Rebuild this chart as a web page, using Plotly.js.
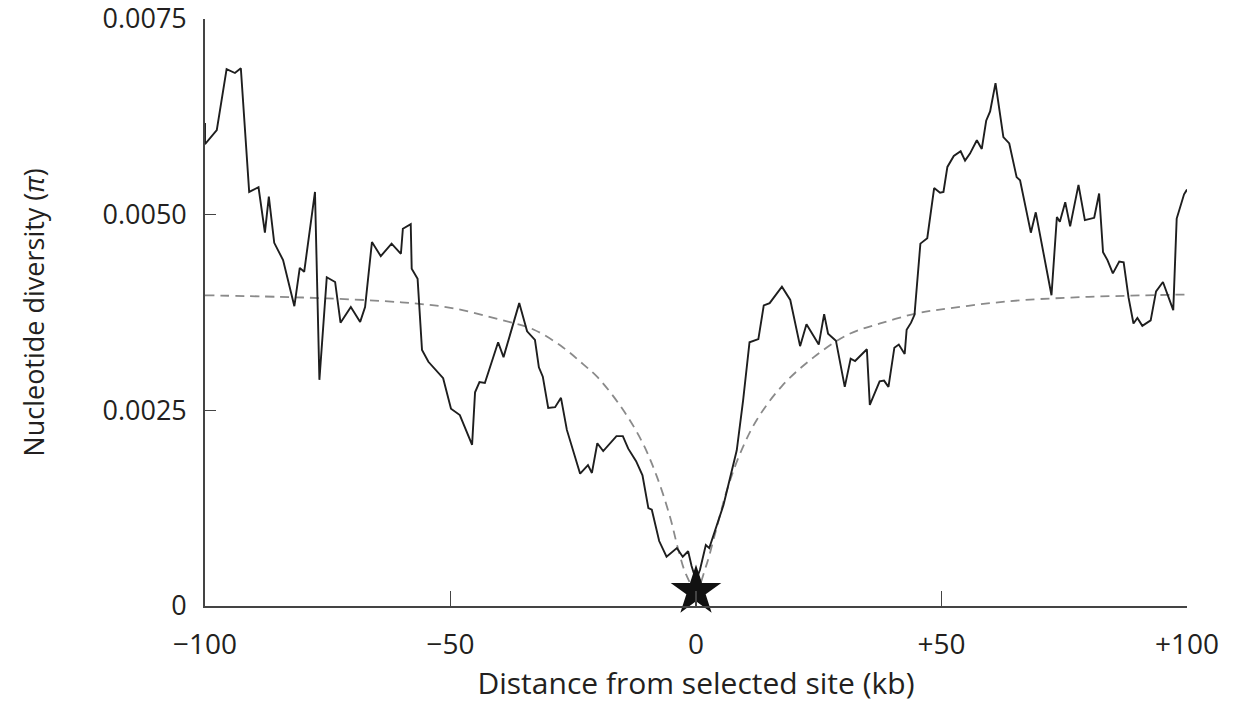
<!DOCTYPE html>
<html>
<head>
<meta charset="utf-8">
<script src="https://cdn.plot.ly/plotly-3.0.1.min.js"></script>
<style>
  html, body { margin: 0; padding: 0; background: #ffffff; }
  #chart { width: 1235px; height: 703px; }
</style>
</head>
<body>
<div id="chart"></div>
<script>
// Observed nucleotide diversity along the sequence (kb from selected site)
const distanceKb = [
  -100, -100, -97.6, -95.6, -93.9, -92.7, -91.0, -89.1, -87.8, -87.0,
  -85.9, -84.1, -81.8, -80.7, -79.8, -77.6, -76.7, -75.2, -73.5, -72.4,
  -70.3, -68.4, -67.4, -66.0, -64.2, -62.0, -60.1, -59.7, -58.1, -57.9,
  -56.7, -55.8, -54.5, -51.5, -49.9, -48.1, -45.6, -45.0, -44.1, -43.0,
  -40.3, -39.2, -36.0, -34.4, -32.8, -32.0, -31.2, -30.1, -28.7, -27.5,
  -26.3, -23.6, -22.0, -21.2, -20.1, -18.9, -16.2, -14.9, -13.8, -12.2,
  -10.9, -9.7, -9.0, -7.5, -6.0, -3.9, -2.7, -1.6, -0.9, 0,
  0.8, 2.0, 2.7, 5.6, 8.3, 9.6, 10.9, 12.7, 13.8, 15.0,
  17.5, 19.2, 21.2, 22.5, 25.0, 26.1, 26.9, 28.5, 30.3, 31.5,
  32.4, 34.8, 35.4, 37.4, 38.3, 39.2, 40.4, 41.3, 42.5, 42.9,
  43.8, 44.5, 45.7, 47.1, 48.5, 49.7, 50.4, 51.2, 52.5, 53.9,
  54.8, 55.8, 57.2, 58.2, 59.1, 59.9, 61.0, 62.6, 63.8, 65.3,
  66.0, 68.2, 69.2, 72.4, 73.5, 74.1, 75.2, 76.2, 77.9, 79.2,
  81.1, 82.1, 82.9, 83.8, 84.9, 86.2, 87.1, 88.1, 89.1, 89.9,
  90.9, 92.6, 93.7, 95.1, 97.2, 97.9, 99.4, 100
];
const diversity = [
  0.00617, 0.00590, 0.00608, 0.00686, 0.00681, 0.00687, 0.00529, 0.00535, 0.00477, 0.00523,
  0.00464, 0.00442, 0.00383, 0.00432, 0.00427, 0.00529, 0.00289, 0.00420, 0.00414, 0.00362,
  0.00382, 0.00363, 0.00382, 0.00465, 0.00447, 0.00463, 0.00450, 0.00482, 0.00488, 0.00431,
  0.00418, 0.00327, 0.00312, 0.00291, 0.00252, 0.00244, 0.00206, 0.00273, 0.00286, 0.00285,
  0.00337, 0.00318, 0.00387, 0.00351, 0.00340, 0.00305, 0.00293, 0.00253, 0.00254, 0.00266,
  0.00225, 0.00169, 0.00180, 0.00170, 0.00208, 0.00198, 0.00217, 0.00217, 0.00201, 0.00185,
  0.00167, 0.00125, 0.00123, 0.00083, 0.00063, 0.00074, 0.00063, 0.00070, 0.00051, 0.00033,
  0.00046, 0.00078, 0.00074, 0.00129, 0.00199, 0.00263, 0.00337, 0.00341, 0.00384, 0.00387,
  0.00408, 0.00391, 0.00332, 0.00360, 0.00334, 0.00373, 0.00348, 0.00339, 0.00280, 0.00316,
  0.00313, 0.00328, 0.00257, 0.00287, 0.00288, 0.00280, 0.00330, 0.00334, 0.00322, 0.00353,
  0.00362, 0.00372, 0.00463, 0.00470, 0.00534, 0.00528, 0.00529, 0.00561, 0.00575, 0.00581,
  0.00569, 0.00578, 0.00595, 0.00584, 0.00620, 0.00632, 0.00668, 0.00599, 0.00591, 0.00548,
  0.00544, 0.00477, 0.00503, 0.00397, 0.00497, 0.00491, 0.00516, 0.00485, 0.00538, 0.00493,
  0.00496, 0.00527, 0.00452, 0.00442, 0.00425, 0.00440, 0.00439, 0.00394, 0.00361, 0.00368,
  0.00358, 0.00365, 0.00402, 0.00414, 0.00378, 0.00495, 0.00526, 0.00532
];

// Expected diversity under a selective sweep (dashed curve)
const modelKb = [
  -100, -85, -75, -60, -50, -40, -33, -27, -23, -20,
  -15, -11, -8, -5.3, -3.6, -2, 0, 2, 4, 6.3,
  9, 12.4, 17.5, 24, 31, 37.5, 45, 50, 60, 67,
  80, 100
];
const modelDiversity = [
  0.00397, 0.00395, 0.00393, 0.00388, 0.00381, 0.00366, 0.00353, 0.00330, 0.00309, 0.00292,
  0.00252, 0.00210, 0.00166, 0.00114, 0.00072, 0.00040, 0.00020, 0.00050, 0.00095, 0.00148,
  0.00195, 0.00238, 0.00281, 0.00318, 0.00347, 0.00361, 0.00374, 0.00379, 0.00387, 0.00391,
  0.00395, 0.00398
];

// Selected site marker
const starKb = [0];
const starDiversity = [0.00019];

// Axis ticks
const xTickVals = [-100, -50, 0, 50, 100];
const xTickText = ['\u2212100', '\u221250', '0', '+50', '+100'];
const yTickVals = [0, 0.0025, 0.005, 0.0075];
const yTickText = ['0', '0.0025', '0.0050', '0.0075'];

const fontFamily = '"Open Sans", "Noto Sans", sans-serif';
const textColor = '#231f20';

const traces = [
  {
    x: modelKb, y: modelDiversity,
    type: 'scatter', mode: 'lines',
    line: { color: '#8a8a8a', width: 1.8, dash: '9px,6px', shape: 'spline', smoothing: 1 },
    hoverinfo: 'skip', showlegend: false
  },
  {
    x: distanceKb, y: diversity,
    type: 'scatter', mode: 'lines',
    line: { color: '#1e1e1e', width: 1.9 },
    showlegend: false
  },
  {
    x: starKb, y: starDiversity,
    type: 'scatter', mode: 'markers',
    marker: { symbol: 'star', size: 38, color: '#111111', line: { width: 0 } },
    cliponaxis: false, showlegend: false
  }
];

const layout = {
  width: 1235, height: 703,
  margin: { l: 205, r: 48, t: 19, b: 97 },
  paper_bgcolor: '#ffffff', plot_bgcolor: '#ffffff',
  font: { family: fontFamily, color: textColor, size: 27 },
  showlegend: false,
  xaxis: {
    range: [-100, 100],
    tickmode: 'array', tickvals: xTickVals, ticktext: xTickText,
    ticks: 'inside', ticklen: 15, tickwidth: 1.4, tickcolor: '#444',
    showline: true, linecolor: '#444', linewidth: 1.8,
    showgrid: false, zeroline: false,
    tickfont: { family: fontFamily, size: 28, color: textColor },
    ticklabelstandoff: 13,
    ticklabeloverflow: 'allow',
    title: { text: 'Distance from selected site (kb)', font: { family: fontFamily, size: 30, color: textColor }, standoff: 18 }
  },
  yaxis: {
    range: [0, 0.0075],
    tickmode: 'array', tickvals: yTickVals, ticktext: yTickText,
    ticks: 'inside', ticklen: 11, tickwidth: 1.4, tickcolor: '#444',
    showline: true, linecolor: '#444', linewidth: 1.8,
    showgrid: false, zeroline: false,
    tickfont: { family: fontFamily, size: 27, color: textColor },
    ticklabelstandoff: 11,
    ticklabeloverflow: 'allow',
    title: { text: 'Nucleotide diversity (<i>\u03c0</i>)', font: { family: fontFamily, size: 27, color: textColor }, standoff: 50 }
  }
};

Plotly.newPlot('chart', traces, layout, { displayModeBar: false, staticPlot: true });
</script>
</body>
</html>
